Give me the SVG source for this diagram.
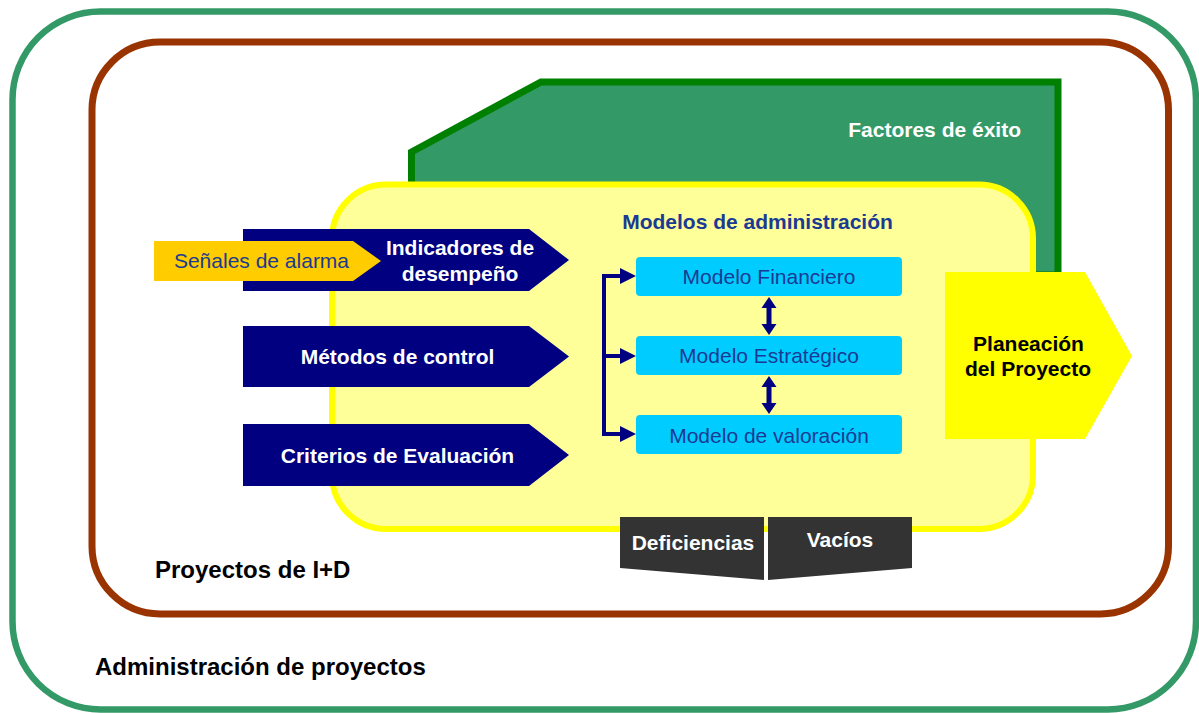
<svg xmlns="http://www.w3.org/2000/svg" width="1199" height="713" viewBox="0 0 1199 713">
<style>
text{font-family:"Liberation Sans",Arial,Helvetica,sans-serif;font-size:21px}
.b{font-weight:bold}
.big{font-size:24px}
.w{fill:#ffffff}
.n{fill:#1a3a94}
.k{fill:#000000}
.mc{text-anchor:middle}
.navy{fill:#000080}
.cy{fill:#00ccff}
.dk{fill:#333333}
.ln{stroke:#000080;stroke-width:4;fill:none}
</style>
<rect width="1199" height="713" fill="#ffffff"/>
<g id="administracion">
<rect x="12.5" y="11.5" width="1183.5" height="698" rx="88" fill="none" stroke="#339966" stroke-width="6.5"/>
<text class="b k big" x="95" y="675">Administración de proyectos</text>
</g>
<g id="proyectos">
<rect x="92" y="42" width="1076.5" height="572" rx="68" fill="none" stroke="#993300" stroke-width="7"/>
<text class="b k big" x="155" y="578">Proyectos de I+D</text>
</g>
<g id="factores">
<polygon points="411.5,152 541,82 1058,82 1058,275 411.5,275" fill="#339966" stroke="#008000" stroke-width="7"/>
<text class="b w" x="1021" y="137" text-anchor="end">Factores de éxito</text>
</g>
<g id="modelos">
<rect x="332" y="184.5" width="701" height="344.5" rx="54" fill="#ffff99" stroke="#ffff00" stroke-width="6"/>
<text class="b n mc" x="757.5" y="229">Modelos de administración</text>
</g>
<g id="indicadores">
<polygon class="navy" points="243,229 529,229 569,260 529,291 243,291"/>
<text class="b w mc" x="460" y="255">Indicadores de</text>
<text class="b w mc" x="460" y="281">desempeño</text>
</g>
<g id="senales">
<polygon fill="#ffcc00" points="154,241 353,241 381,261 353,281 154,281"/>
<text class="n mc" x="261.5" y="268">Señales de alarma</text>
</g>
<g id="metodos">
<polygon class="navy" points="243,326 529,326 569,356.5 529,387 243,387"/>
<text class="b w mc" x="397.5" y="364">Métodos de control</text>
</g>
<g id="criterios">
<polygon class="navy" points="243,424 529,424 569,455 529,486 243,486"/>
<text class="b w mc" x="397.5" y="463">Criterios de Evaluación</text>
</g>
<g id="financiero">
<rect class="cy" x="636" y="257" width="266" height="39" rx="4"/>
<text class="n mc" x="769" y="284">Modelo Financiero</text>
</g>
<g id="estrategico">
<rect class="cy" x="636" y="336" width="266" height="39" rx="4"/>
<text class="n mc" x="769" y="363">Modelo Estratégico</text>
</g>
<g id="valoracion">
<rect class="cy" x="636" y="415" width="266" height="39" rx="4"/>
<text class="n mc" x="769" y="443">Modelo de valoración</text>
</g>
<g id="planeacion">
<polygon fill="#ffff00" points="945,272 1085,272 1132,356 1085,439 945,439"/>
<text class="b k mc" x="1028.5" y="351">Planeación</text>
<text class="b k mc" x="1028" y="376">del Proyecto</text>
</g>
<g id="deficiencias">
<polygon class="dk" points="620,517 764,517 764,580 620,568"/>
<text class="b w mc" x="693" y="550">Deficiencias</text>
</g>
<g id="vacios">
<polygon class="dk" points="768,517 912,517 912,568 768,580"/>
<text class="b w mc" x="840" y="547">Vacíos</text>
</g>
<g id="connectors">
<path class="ln" d="M622,276 H604 V434 H622 M604,356 H622"/>
<polygon class="navy" points="620,268 636,276 620,284"/>
<polygon class="navy" points="620,348 636,356 620,364"/>
<polygon class="navy" points="620,426 636,434 620,442"/>
<polygon class="navy" points="769,297 776.5,308 771.5,308 771.5,324 776.5,324 769,335 761.5,324 766.5,324 766.5,308 761.5,308"/>
<polygon class="navy" points="769,376 776.5,387 771.5,387 771.5,403 776.5,403 769,414 761.5,403 766.5,403 766.5,387 761.5,387"/>
</g>
</svg>
